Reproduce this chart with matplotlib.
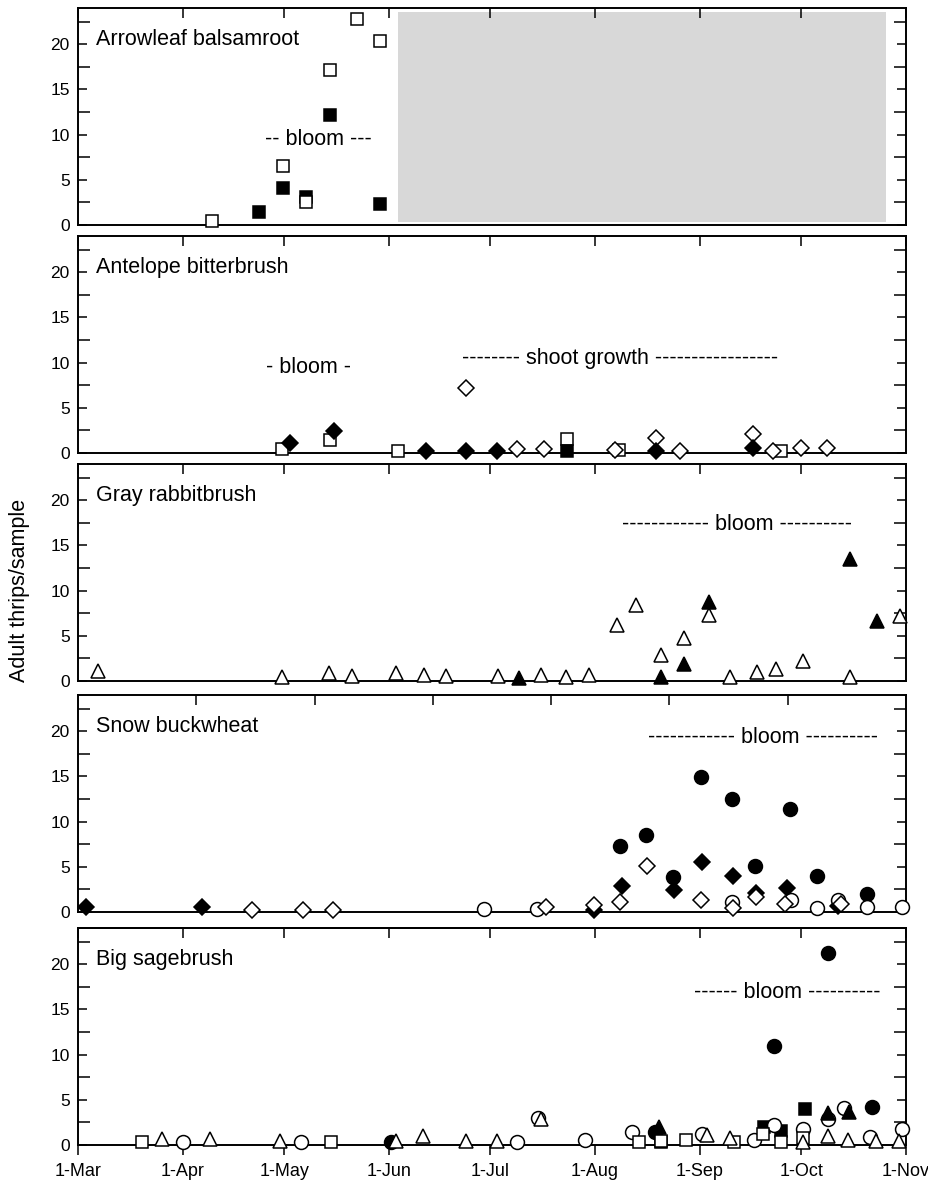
import matplotlib
matplotlib.use("Agg")
import matplotlib.pyplot as plt
from matplotlib.patches import Rectangle

plt.rcParams['font.family'] = ['Liberation Sans', 'DejaVu Sans']

# ---------------- data (x = days since 1-Mar, y = adult thrips/sample) -------------
month_ticks = [0, 31, 61, 92, 122, 153, 184, 214, 245]
month_labels = ['1-Mar', '1-Apr', '1-May', '1-Jun', '1-Jul', '1-Aug', '1-Sep', '1-Oct', '1-Nov']
panel4_top_ticks = [35, 70, 105, 140, 175, 210]

# Panel 1: Arrowleaf balsamroot
ab_open_sq_day = [39.7, 60.7, 67.6, 74.7, 82.7, 89.5]
ab_open_sq_val = [0.45, 6.5, 2.5, 17.15, 22.8, 20.4]
ab_fill_sq_day = [53.6, 60.7, 67.6, 74.7, 89.5]
ab_fill_sq_val = [1.45, 4.1, 3.15, 12.2, 2.35]
ab_shade_start, ab_shade_end = 94.7, 239.0
ab_shade_low, ab_shade_high = 0.37, 23.6

# Panel 2: Antelope bitterbrush
bb_open_sq_day = [60.5, 74.6, 94.7, 144.8, 160.0, 208.0]
bb_open_sq_val = [0.45, 1.45, 0.2, 1.5, 0.3, 0.25]
bb_fill_sq_day = [144.8]
bb_fill_sq_val = [0.2]
bb_open_di_day = [114.7, 130.0, 138.0, 159.0, 171.0, 178.0, 199.7, 205.7, 214.0, 221.7]
bb_open_di_val = [7.2, 0.45, 0.45, 0.3, 1.7, 0.2, 2.1, 0.25, 0.5, 0.5]
bb_fill_di_day = [62.6, 75.7, 103.0, 114.9, 124.0, 171.0, 199.8]
bb_fill_di_val = [1.15, 2.4, 0.2, 0.2, 0.2, 0.25, 0.5]

# Panel 3: Gray rabbitbrush
rb_open_tri_day = [6.0, 60.3, 74.2, 81.0, 94.0, 102.4, 109.0, 124.3, 137.0, 144.4, 151.3,
                   159.4, 165.2, 172.6, 179.2, 186.6, 193.0, 201.0, 206.4, 214.4, 228.4, 243.3]
rb_open_tri_val = [1.1, 0.45, 0.9, 0.6, 0.9, 0.7, 0.6, 0.6, 0.7, 0.4, 0.7,
                   6.2, 8.4, 2.9, 4.75, 7.3, 0.45, 1.0, 1.3, 2.2, 0.45, 7.2]
rb_fill_tri_day = [130.5, 172.6, 179.2, 186.6, 228.4, 236.4]
rb_fill_tri_val = [0.35, 0.45, 1.85, 8.7, 13.5, 6.6]

# Panel 4: Snow buckwheat
sb_fill_ci_day = [160.3, 168.2, 176.2, 184.4, 193.5, 200.3, 210.6, 218.8, 233.4]
sb_fill_ci_val = [7.27, 8.5, 3.85, 14.9, 12.5, 5.06, 11.4, 4.0, 2.0]
sb_fill_di_day = [2.5, 36.8, 152.6, 161.0, 176.5, 184.7, 193.8, 200.5, 209.8, 225.0]
sb_fill_di_val = [0.6, 0.6, 0.25, 2.93, 2.4, 5.5, 3.96, 2.1, 2.7, 0.7]
sb_open_ci_day = [120.0, 135.8, 193.5, 211.0, 218.8, 225.0, 233.4, 243.9]
sb_open_ci_val = [0.35, 0.35, 1.1, 1.3, 0.45, 1.28, 0.6, 0.6]
sb_open_di_day = [51.6, 66.6, 75.5, 138.6, 152.6, 160.5, 168.4, 184.2, 193.8, 200.5, 209.3, 225.8]
sb_open_di_val = [0.2, 0.2, 0.2, 0.5, 0.75, 1.1, 5.1, 1.35, 0.47, 1.7, 0.85, 0.85]

# Panel 5: Big sagebrush
bs_fill_sq_day = [172.5, 202.9, 208.0, 215.0]
bs_fill_sq_val = [0.3, 2.0, 1.55, 3.95]
bs_fill_ci_day = [92.5, 170.6, 205.8, 222.0, 235.0]
bs_fill_ci_val = [0.35, 1.4, 11.0, 21.2, 4.2]
bs_open_ci_day = [31.0, 65.9, 129.9, 136.1, 150.0, 164.0, 184.7, 200.0, 206.0, 214.5, 222.0,
                  226.8, 234.4, 243.9]
bs_open_ci_val = [0.3, 0.3, 0.3, 3.0, 0.5, 1.4, 1.2, 0.55, 2.2, 1.75, 2.9, 4.1, 0.9, 1.8]
bs_open_sq_day = [19.0, 75.0, 166.0, 172.5, 180.0, 194.0, 202.7, 208.0, 214.5]
bs_open_sq_val = [0.3, 0.3, 0.35, 0.4, 0.55, 0.35, 1.2, 0.3, 0.75]
bs_open_tri_day = [25.0, 39.0, 59.9, 94.0, 102.0, 114.7, 124.0, 136.9, 186.0, 193.0, 214.5,
                   222.0, 227.8, 236.0, 243.0]
bs_open_tri_val = [0.65, 0.65, 0.45, 0.45, 0.95, 0.45, 0.45, 2.85, 1.1, 0.75, 0.35,
                   1.0, 0.55, 0.4, 0.4]
bs_fill_tri_day = [172.0, 221.9, 228.0]
bs_fill_tri_val = [2.0, 3.5, 3.7]

panel_names = ['Arrowleaf balsamroot', 'Antelope bitterbrush', 'Gray rabbitbrush',
               'Snow buckwheat', 'Big sagebrush']
# annotations: (text, day, value)
panel_notes = [
    [('-- bloom ---', 71.2, 9.45)],
    [('- bloom -', 68.3, 9.5),
     ('-------- shoot growth -----------------', 160.5, 10.4)],
    [('------------ bloom ----------', 195.0, 17.3)],
    [('------------ bloom ----------', 202.7, 19.3)],
    [('------ bloom ----------', 210.0, 16.9)],
]
ylabel = 'Adult thrips/sample'

# ---------------- figure ----------------
W, H = 929, 1186
fig = plt.figure(figsize=(W / 100, H / 100), dpi=100)

left_px, right_px = 78, 906
tops_px = [8, 236, 464, 695, 928]
height_px = 217

MS_SQ = 9.2
MS_CI = 10.0
MS_DI = 8.2
MS_TRI = 9.6
MEW = 1.1


def mk(ax, x, y, marker, filled, ms, z):
    ax.plot(x, y, linestyle='none', marker=marker, markersize=ms,
            markerfacecolor='black' if filled else 'white',
            markeredgecolor='black', markeredgewidth=MEW, zorder=z, clip_on=False)


axes = []
for i, top in enumerate(tops_px):
    ax = fig.add_axes([left_px / W, 1 - (top + height_px) / H,
                       (right_px - left_px) / W, height_px / H])
    ax.set_xlim(0, 245)
    ax.set_ylim(0, 24)
    for s in ax.spines.values():
        s.set_linewidth(1.4)
    ax.set_yticks([0, 5, 10, 15, 20])
    ax.set_yticks([2.5, 7.5, 12.5, 17.5, 22.5], minor=True)
    ax.tick_params(axis='y', which='both', direction='in', left=True, right=True,
                   labelsize=12.5, pad=6, width=1.1)
    ax.tick_params(axis='y', which='major', length=6.5)
    ax.tick_params(axis='y', which='minor', length=8.6)
    axes.append(ax)

# x ticks
for i, ax in enumerate(axes[:4]):
    if i == 3:
        ax.set_xticks(panel4_top_ticks)
    else:
        ax.set_xticks(month_ticks)
    ax.tick_params(axis='x', which='major', direction='in', top=True, bottom=False,
                   labelbottom=False, length=7, width=1.1)
ax5 = axes[4]
ax5.set_xticks(month_ticks)
ax5.set_xticklabels(month_labels)
ax5.tick_params(axis='x', which='major', direction='out', top=False, bottom=True,
                length=7, width=1.1, labelsize=13, pad=6)
sec = ax5.secondary_xaxis('top')
sec.set_xticks(month_ticks)
sec.tick_params(axis='x', direction='in', length=7, width=1.1, labeltop=False)
sec.spines['top'].set_linewidth(1.4)

# Panel 1
ax = axes[0]
ax.add_patch(Rectangle((ab_shade_start, ab_shade_low), ab_shade_end - ab_shade_start,
                       ab_shade_high - ab_shade_low, facecolor='#d8d8d8', edgecolor='none', zorder=1))
mk(ax, ab_fill_sq_day, ab_fill_sq_val, 's', True, MS_SQ, 3)
mk(ax, ab_open_sq_day, ab_open_sq_val, 's', False, MS_SQ, 4)

# Panel 2
ax = axes[1]
mk(ax, bb_open_sq_day, bb_open_sq_val, 's', False, MS_SQ, 3)
mk(ax, bb_fill_sq_day, bb_fill_sq_val, 's', True, MS_SQ, 3)
mk(ax, bb_open_di_day, bb_open_di_val, 'D', False, MS_DI, 4)
mk(ax, bb_fill_di_day, bb_fill_di_val, 'D', True, MS_DI, 5)

# Panel 3
ax = axes[2]
mk(ax, rb_open_tri_day, rb_open_tri_val, '^', False, MS_TRI, 3)
mk(ax, rb_fill_tri_day, rb_fill_tri_val, '^', True, MS_TRI, 4)

# Panel 4
ax = axes[3]
mk(ax, sb_fill_ci_day, sb_fill_ci_val, 'o', True, MS_CI, 3)
mk(ax, sb_fill_di_day, sb_fill_di_val, 'D', True, MS_DI, 4)
mk(ax, sb_open_ci_day, sb_open_ci_val, 'o', False, MS_CI, 5)
mk(ax, sb_open_di_day, sb_open_di_val, 'D', False, MS_DI, 6)

# Panel 5
ax = axes[4]
mk(ax, bs_fill_sq_day, bs_fill_sq_val, 's', True, MS_SQ, 3)
mk(ax, bs_fill_ci_day, bs_fill_ci_val, 'o', True, MS_CI, 4)
mk(ax, bs_open_ci_day, bs_open_ci_val, 'o', False, MS_CI, 5)
mk(ax, bs_open_sq_day, bs_open_sq_val, 's', False, MS_SQ, 6)
mk(ax, bs_open_tri_day, bs_open_tri_val, '^', False, MS_TRI, 7)
mk(ax, bs_fill_tri_day, bs_fill_tri_val, '^', True, MS_TRI, 8)

# panel names and notes
for ax, name, notes in zip(axes, panel_names, panel_notes):
    ax.text(0.022, 20.5 / 24, name, transform=ax.transAxes, fontsize=15.5,
            ha='left', va='center', zorder=10)
    for txt, d, v in notes:
        ax.text(d, v, txt, fontsize=15.5, ha='center', va='center', zorder=10)

fig.text(20 / W, 1 - 590 / H, ylabel, rotation=90, ha='center', va='center', fontsize=15.5)

fig.savefig('out.png', dpi=100)
